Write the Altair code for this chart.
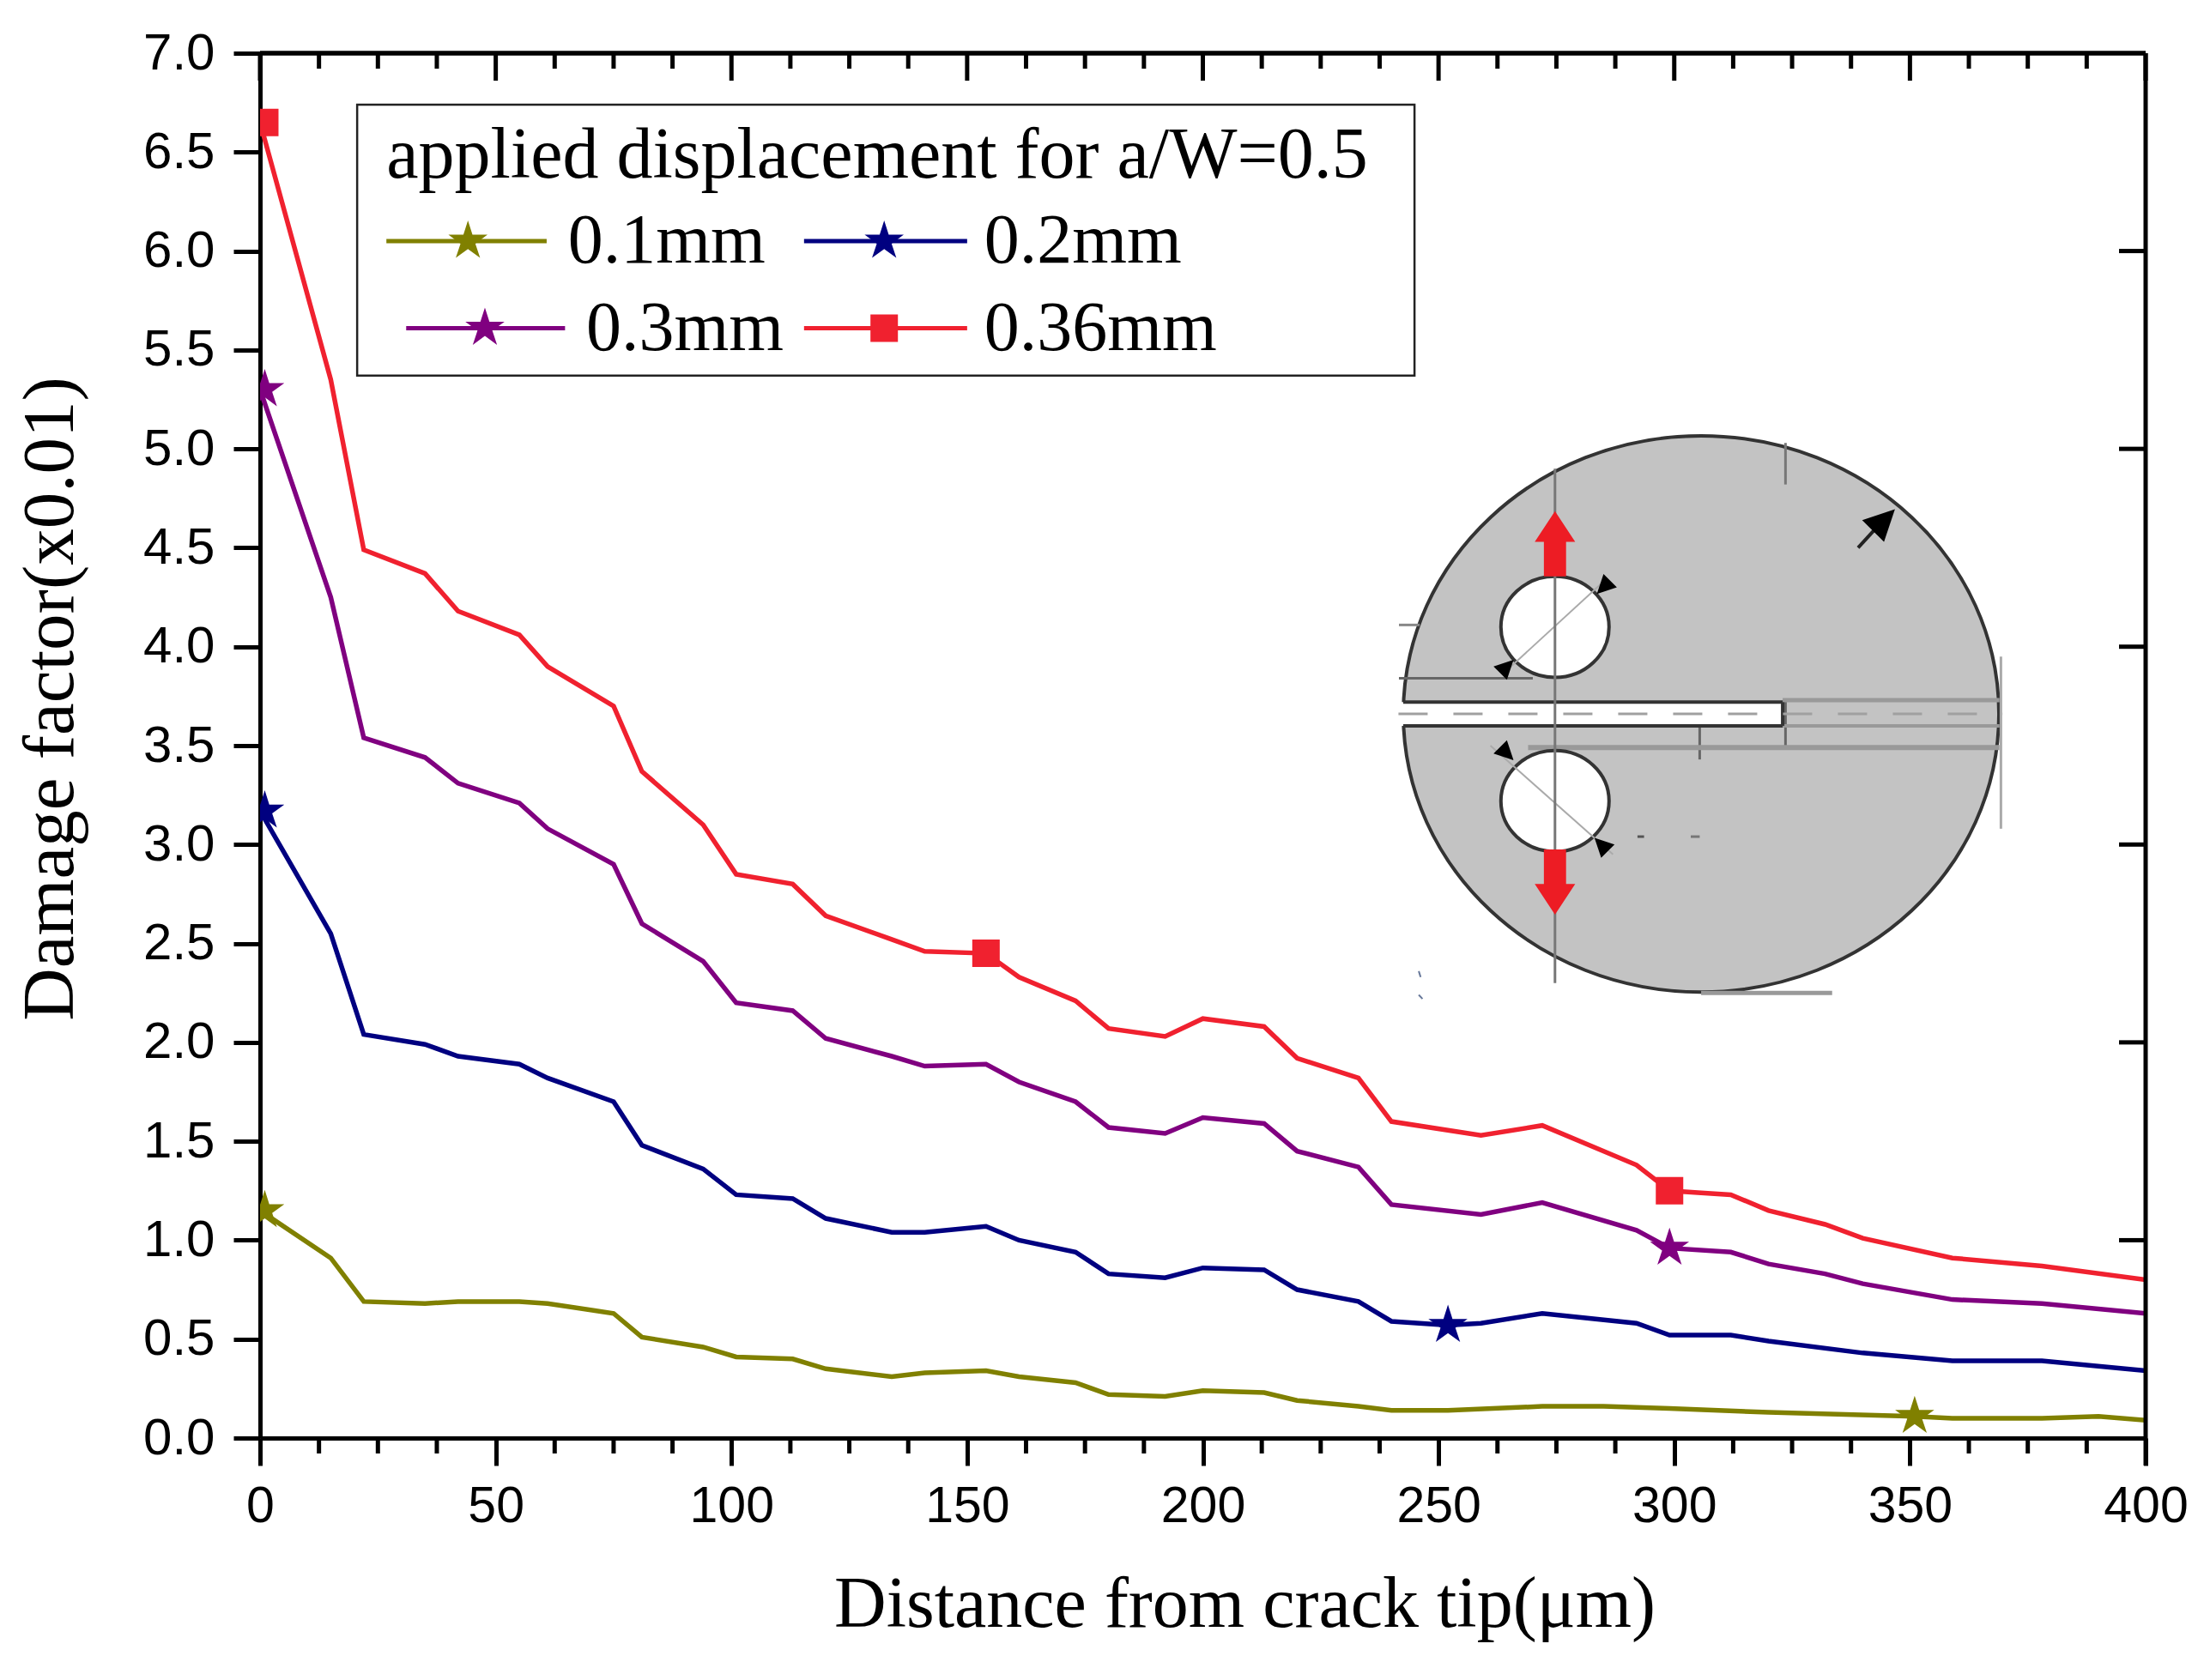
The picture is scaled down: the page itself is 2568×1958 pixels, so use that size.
import altair as alt
import pandas as pd

# ---- curve data ----
red_x = [0,15,22,35,42,55,61,75,81,94,101,113,120,134,141,154,161,173,180,192,200,213,220,233,240,259,272,292,299,305,312,320,332,340,359,378,400]
red_y = [6.65,5.35,4.49,4.37,4.18,4.06,3.9,3.7,3.37,3.1,2.85,2.8,2.64,2.52,2.46,2.45,2.33,2.21,2.07,2.03,2.12,2.08,1.92,1.82,1.6,1.53,1.58,1.38,1.25,1.24,1.23,1.15,1.08,1.01,0.91,0.87,0.80]
pur_x = [0,15,22,35,42,55,61,75,81,94,101,113,120,134,141,154,161,173,180,192,200,213,220,233,240,259,272,292,299,312,320,332,340,359,378,400]
pur_y = [5.3,4.25,3.54,3.44,3.31,3.21,3.08,2.9,2.6,2.41,2.2,2.16,2.02,1.93,1.88,1.89,1.8,1.7,1.57,1.54,1.62,1.59,1.45,1.37,1.18,1.13,1.19,1.05,0.96,0.94,0.88,0.83,0.78,0.70,0.68,0.63]
blu_x = [0,15,22,35,42,55,61,75,81,94,101,113,120,134,141,154,161,173,180,192,200,213,220,233,240,252,259,272,292,299,312,320,340,359,378,400]
blu_y = [3.17,2.55,2.04,1.99,1.93,1.89,1.82,1.7,1.48,1.36,1.23,1.21,1.11,1.04,1.04,1.07,1.0,0.94,0.83,0.81,0.86,0.85,0.75,0.69,0.59,0.57,0.58,0.63,0.58,0.52,0.52,0.49,0.43,0.39,0.39,0.34]
oli_x = [0,15,22,35,42,55,61,75,81,94,101,113,120,134,141,154,161,173,180,192,200,213,220,233,240,252,272,285,299,320,351,359,378,390,400]
oli_y = [1.15,0.91,0.69,0.68,0.69,0.69,0.68,0.63,0.51,0.46,0.41,0.40,0.35,0.31,0.33,0.34,0.31,0.28,0.22,0.21,0.24,0.23,0.19,0.16,0.14,0.14,0.16,0.16,0.15,0.13,0.11,0.10,0.10,0.11,0.09]

series_names = ["0.1mm", "0.2mm", "0.3mm", "0.36mm"]
series_colors = ["#808000", "#000080", "#800080", "#F0212F"]

mark_series = ["0.1mm","0.1mm","0.2mm","0.2mm","0.3mm","0.3mm","0.36mm","0.36mm","0.36mm"]
mark_x = [1,351,1,252,1,299,1,154,299]
mark_y = [1.15,0.11,3.17,0.57,5.3,0.96,6.65,2.45,1.25]

# ---- legend contents ----
legend_title = "applied displacement for a/W=0.5"
leg_x1 = [26.8,115.4,31,115.4]
leg_x2 = [60.8,150,64.7,150]
leg_y = [6.05,6.05,5.61,5.61]
leg_mx = [44.1,132.4,47.7,132.4]
leg_tx = [65.3,153.6,69.2,153.6]
leg_ty = [5.94,5.94,5.50,5.50]

x_major = [0,50,100,150,200,250,300,350,400]
x_minor = [12.5,25,37.5,62.5,75,87.5,112.5,125,137.5,162.5,175,187.5,212.5,225,237.5,262.5,275,287.5,312.5,325,337.5,362.5,375,387.5]
y_major = [0,0.5,1,1.5,2,2.5,3,3.5,4,4.5,5,5.5,6,6.5,7]
y_right = [1,2,3,4,5,6]

W, H = 2197, 1614
xs = alt.Scale(domain=[0,400], nice=False, zero=False)
ys = alt.Scale(domain=[0,7], nice=False, zero=False)

STAR = "M0,-1L0.22,-0.31L0.95,-0.31L0.36,0.12L0.59,0.81L0,0.38L-0.59,0.81L-0.36,0.12L-0.95,-0.31L-0.22,-0.31Z"
SQUARE = "M-1,-1L1,-1L1,1L-1,1Z"
ARROW = "M0,-1L0.62,-0.06L0.34,-0.06L0.34,1L-0.34,1L-0.34,-0.06L-0.62,-0.06Z"
ELLIPSE = "M-1,0A1,0.934,0,1,1,1,0A1,0.934,0,1,1,-1,0Z"
WEDGE = "M0,-1L1,1L-1,1Z"

X = lambda: alt.X("x:Q", scale=xs, axis=None)
Y = lambda: alt.Y("y:Q", scale=ys, axis=None)

color_scale = alt.Scale(domain=series_names, range=series_colors)

# ---- axes -----
base_axes = alt.Chart(pd.DataFrame({"x":[0,400],"y":[0,7]})).mark_point(opacity=0).encode(
    x=alt.X("x:Q", scale=xs, axis=alt.Axis(
        values=x_major, title="Distance from crack tip(\u03bcm)", format="d", grid=False,
        domainWidth=5, domainColor="black", tickWidth=5, tickColor="black", tickSize=32,
        labelFont="Liberation Sans", labelFontSize=59, labelColor="black", labelPadding=18, labelFlush=False,
        titleFont="Liberation Serif", titleFontSize=84, titleFontWeight="normal", titleColor="black",
        titlePadding=44, titleX=1147, labelOverlap=False)),
    y=alt.Y("y:Q", scale=ys, axis=alt.Axis(
        values=y_major, title="Damage factor(x0.01)", format=".1f", grid=False,
        domainWidth=5, domainColor="black", tickWidth=5, tickColor="black", tickSize=31,
        labelFont="Liberation Sans", labelFontSize=60, labelColor="black", labelPadding=22, labelFlush=False,
        titleFont="Liberation Serif", titleFontSize=85, titleFontWeight="normal", titleColor="black",
        titleX=-201, titleY=752, labelOverlap=False)),
)

minor_df = pd.DataFrame({"x": x_minor})
major_df = pd.DataFrame({"x": x_major})
yright_df = pd.DataFrame({"y": y_right})

tick_layers = [
    alt.Chart(minor_df).mark_rule(color="black", strokeWidth=5).encode(x=X(), y=alt.value(H), y2=alt.value(H+18)),
    alt.Chart(minor_df).mark_rule(color="black", strokeWidth=5).encode(x=X(), y=alt.value(0), y2=alt.value(18)),
    alt.Chart(major_df).mark_rule(color="black", strokeWidth=5).encode(x=X(), y=alt.value(0), y2=alt.value(32)),
    alt.Chart(yright_df).mark_rule(color="black", strokeWidth=5).encode(y=Y(), x=alt.value(W), x2=alt.value(W-31)),
    alt.Chart(pd.DataFrame({"x":[0,400]})).mark_rule(color="black", strokeWidth=5).encode(x=alt.value(0), x2=alt.value(W), y=alt.value(0)),
    alt.Chart(pd.DataFrame({"x":[400]})).mark_rule(color="black", strokeWidth=5).encode(x=alt.value(W), y=alt.value(0), y2=alt.value(H+32)),
]

# ---- inset drawing ----
outer = alt.Chart(pd.DataFrame({"x":[305.7],"y":[3.66]})).mark_point(
    shape=ELLIPSE, size=694**2, filled=True, fill="#C3C3C3", stroke="#333333", strokeWidth=4, opacity=1).encode(x=X(), y=Y())

seg = pd.DataFrame([
    (323.6,5.03,323.6,4.82,"#777777",3),
    (305.4,3.72,305.4,3.43,"#666666",3),
    (323.6,3.73,323.6,3.48,"#666666",3),
    (369.3,3.95,369.3,3.08,"#AAAAAA",3),
    (241.6,3.84,270,3.84,"#666666",3),
    (241.6,4.11,246,4.11,"#888888",3),
    (305.7,2.25,333.5,2.25,"#999999",5),
    (323,3.73,369,3.73,"#999999",5),
    (323,3.60,369,3.60,"#999999",4),
    (269,3.49,369,3.49,"#999999",6),
    (292.2,3.04,293.6,3.04,"#555555",3),
    (303.5,3.04,305.4,3.04,"#777777",3),
    (245.8,2.36,246.2,2.33,"#667799",2),
    (245.8,2.24,246.6,2.22,"#667799",2),
], columns=["x","y","x2","y2","c","w"])

seg_layers = []
for c_, w_ in sorted(set(zip(seg.c, seg.w))):
    sub = seg[(seg.c==c_) & (seg.w==w_)]
    seg_layers.append(alt.Chart(sub).mark_rule(color=c_, strokeWidth=w_).encode(x=X(), y=Y(), x2="x2:Q", y2="y2:Q"))

holes = alt.Chart(pd.DataFrame({"x":[274.7,274.7],"y":[4.10,3.22]})).mark_point(
    shape=ELLIPSE, size=126**2, filled=True, fill="white", stroke="#333333", strokeWidth=4, opacity=1).encode(x=X(), y=Y())
hole_diag = alt.Chart(pd.DataFrame({"x":[264,261],"y":[3.87,3.50],"x2":[285.5,287],"y2":[4.34,2.95]})).mark_rule(
    color="#AAAAAA", strokeWidth=2).encode(x=X(), y=Y(), x2="x2:Q", y2="y2:Q")
hole_vert = alt.Chart(pd.DataFrame({"x":[274.7],"y":[4.90],"y2":[2.30]})).mark_rule(color="#777777", strokeWidth=3).encode(x=X(), y=Y(), y2="y2:Q")

crack = alt.Chart(pd.DataFrame({"x":[241.5],"x2":[323],"y":[3.72],"y2":[3.60]})).mark_rect(
    fill="white").encode(x=X(), x2="x2:Q", y=Y(), y2="y2:Q")
crack_lines = alt.Chart(pd.DataFrame({"x":[242.5,242.5,323],"x2":[323,323,323],"y":[3.72,3.60,3.72],"y2":[3.72,3.60,3.60]})).mark_rule(
    color="#333333", strokeWidth=4).encode(x=X(), y=Y(), x2="x2:Q", y2="y2:Q")
crack_center = alt.Chart(pd.DataFrame({"x":[241.5],"x2":[369.7],"y":[3.66]})).mark_rule(
    color="#A0A0A0", strokeWidth=3, strokeDash=[34,30]).encode(x=X(), x2="x2:Q", y=Y())

red_arrows = alt.Chart(pd.DataFrame({"x":[274.7,274.7],"y":[4.52,2.81],"a":[0,180]})).mark_point(
    shape=ARROW, size=76**2, filled=True, fill="#ED1C24", opacity=1).encode(x=X(), y=Y(), angle=alt.Angle("a:Q", scale=None))
big_arrow_line = alt.Chart(pd.DataFrame({"x":[339],"y":[4.50],"x2":[344],"y2":[4.63]})).mark_rule(
    color="#222222", strokeWidth=4).encode(x=X(), y=Y(), x2="x2:Q", y2="y2:Q")
wedges = alt.Chart(pd.DataFrame({
    "x":[344.5,285,264.5,264.5,284.5],
    "y":[4.64,4.30,3.90,3.46,3.00],
    "s":[36,22,22,22,22],
    "a":[45,225,45,135,315]})).mark_point(shape=WEDGE, filled=True, fill="black", opacity=1).encode(
    x=X(), y=Y(), angle=alt.Angle("a:Q", scale=None),
    size=alt.Size("s:Q", scale=alt.Scale(type="pow", exponent=2, domain=[1,100], range=[1,10000]), legend=None))

# ---- curves ----
def line_df(name, xv, yv):
    return pd.DataFrame({"x": xv, "y": yv, "series": name})
lines_df = pd.concat([line_df("0.1mm",oli_x,oli_y), line_df("0.2mm",blu_x,blu_y),
                      line_df("0.3mm",pur_x,pur_y), line_df("0.36mm",red_x,red_y)])
lines = alt.Chart(lines_df).mark_line(strokeWidth=5.5, clip=True).encode(
    x=X(), y=Y(), color=alt.Color("series:N", scale=color_scale, legend=None), detail="series:N", order=alt.Order("x:Q"))

marks_df = pd.DataFrame({"series":mark_series,"x":mark_x,"y":mark_y})
stars = alt.Chart(marks_df[marks_df.series!="0.36mm"]).mark_point(shape=STAR, size=48**2, filled=True, opacity=1, clip=True).encode(
    x=X(), y=Y(), fill=alt.Fill("series:N", scale=color_scale, legend=None))
squares = alt.Chart(marks_df[marks_df.series=="0.36mm"]).mark_point(shape=SQUARE, size=32**2, filled=True, opacity=1, clip=True).encode(
    x=X(), y=Y(), fill=alt.Fill("series:N", scale=color_scale, legend=None))

# ---- legend ----
box = alt.Chart(pd.DataFrame({"x":[20.6],"x2":[244.9],"y":[6.74],"y2":[5.37]})).mark_rect(
    fill="white", stroke="#222222", strokeWidth=2.5).encode(x=X(), x2="x2:Q", y=Y(), y2="y2:Q")
ldf = pd.DataFrame({"series":series_names,"x":leg_x1,"x2":leg_x2,"y":leg_y,"mx":leg_mx,"tx":leg_tx,"ty":leg_ty})
leg_lines = alt.Chart(ldf).mark_rule(strokeWidth=5).encode(
    x=X(), x2="x2:Q", y=Y(), color=alt.Color("series:N", scale=color_scale, legend=None))
leg_stars = alt.Chart(ldf[ldf.series!="0.36mm"]).mark_point(shape=STAR, size=48**2, filled=True, opacity=1).encode(
    x=alt.X("mx:Q", scale=xs, axis=None), y=Y(), fill=alt.Fill("series:N", scale=color_scale, legend=None))
leg_sq = alt.Chart(ldf[ldf.series=="0.36mm"]).mark_point(shape=SQUARE, size=32**2, filled=True, opacity=1).encode(
    x=alt.X("mx:Q", scale=xs, axis=None), y=Y(), fill=alt.Fill("series:N", scale=color_scale, legend=None))
leg_text = alt.Chart(ldf).mark_text(font="Liberation Serif", fontSize=82, align="left", baseline="alphabetic", color="black").encode(
    x=alt.X("tx:Q", scale=xs, axis=None), y=alt.Y("ty:Q", scale=ys, axis=None), text="series:N")
leg_title = alt.Chart(pd.DataFrame({"x":[26.8],"y":[6.37],"t":[legend_title]})).mark_text(
    font="Liberation Serif", fontSize=84, align="left", baseline="alphabetic", color="black").encode(
    x=X(), y=Y(), text="t:N")

layers = [base_axes, outer, *seg_layers, holes, hole_diag, crack, crack_lines, crack_center, hole_vert,
          red_arrows, big_arrow_line, wedges, box, lines, stars, squares,
          leg_lines, leg_stars, leg_sq, leg_text, leg_title, *tick_layers]

chart = alt.layer(*layers).resolve_scale(size="independent").resolve_axis(x="independent", y="independent").properties(
    width=W, height=H, background="white",
    padding={"left":295,"top":54,"right":60,"bottom":270},
    autosize=alt.AutoSizeParams(type="none"),
).configure_view(strokeWidth=0)

chart.save("out.html", embed_options={"renderer": "svg", "actions": False})
